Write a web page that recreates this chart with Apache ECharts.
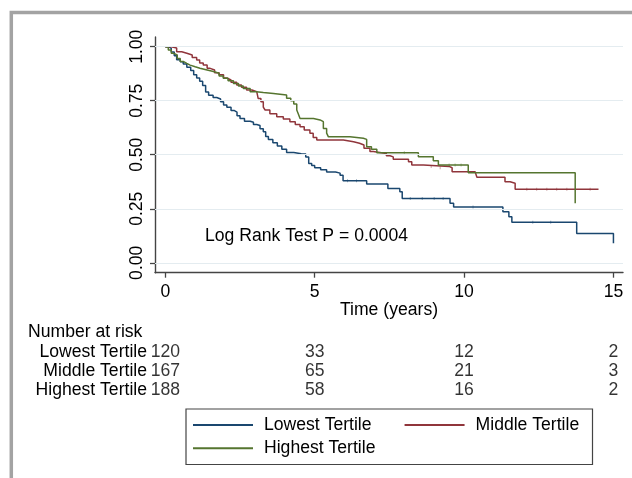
<!DOCTYPE html>
<html>
<head>
<meta charset="utf-8">
<script src="https://cdn.jsdelivr.net/npm/echarts@6/dist/echarts.min.js"></script>
<style>
  html, body { margin: 0; padding: 0; background: #fff; }
  #chart { width: 632px; height: 478px; }
</style>
</head>
<body>
<div id="chart"></div>
<script>
// Kaplan-Meier estimates: [time in years, survival]
var lowest = [
    [0, 1], [0.1, 0.992], [0.2, 0.975], [0.3, 0.958], [0.38, 0.94], [0.5, 0.93], [0.6, 0.92],
    [0.72, 0.905], [0.85, 0.89], [0.95, 0.87], [1.05, 0.855], [1.15, 0.84], [1.25, 0.82],
    [1.35, 0.79], [1.45, 0.775], [1.6, 0.765], [1.72, 0.758], [1.85, 0.745], [1.95, 0.73],
    [2.06, 0.72], [2.2, 0.705], [2.3, 0.697], [2.4, 0.68], [2.5, 0.668], [2.65, 0.655],
    [2.84, 0.65], [2.95, 0.64], [3.06, 0.635], [3.17, 0.62], [3.28, 0.606], [3.36, 0.585],
    [3.45, 0.57], [3.6, 0.555], [3.75, 0.54], [3.9, 0.525], [4.06, 0.51], [4.3, 0.505],
    [4.55, 0.503], [4.7, 0.49], [4.8, 0.46], [4.9, 0.45], [5.0, 0.44], [5.2, 0.43],
    [5.4, 0.42], [5.7, 0.415], [5.85, 0.405], [5.95, 0.38], [6.74, 0.364], [7.45, 0.344],
    [7.85, 0.329], [7.93, 0.298], [9.53, 0.276], [9.65, 0.258], [11.3, 0.236], [11.5, 0.213],
    [11.6, 0.187], [13.77, 0.136], [15, 0.09]
];
var middle = [
    [0, 1], [0.2, 0.994], [0.38, 0.977], [0.55, 0.97], [0.72, 0.962], [0.9, 0.95], [1.05, 0.938],
    [1.15, 0.925], [1.27, 0.915], [1.4, 0.9], [1.5, 0.892], [1.65, 0.88], [1.8, 0.87],
    [1.95, 0.855], [2.06, 0.846], [2.2, 0.835], [2.39, 0.823], [2.55, 0.812], [2.72, 0.8],
    [2.9, 0.792], [3.06, 0.784], [3.11, 0.76], [3.2, 0.745], [3.28, 0.72], [3.34, 0.707],
    [3.5, 0.69], [3.73, 0.676], [3.95, 0.665], [4.17, 0.653], [4.35, 0.64], [4.51, 0.63],
    [4.65, 0.615], [4.84, 0.6], [4.95, 0.58], [5.07, 0.568], [5.96, 0.56], [6.3, 0.553],
    [6.5, 0.545], [6.65, 0.53], [6.85, 0.515], [6.96, 0.506], [7.4, 0.495], [7.52, 0.49],
    [7.63, 0.479], [8.14, 0.468], [8.25, 0.452], [8.64, 0.446], [9.5, 0.44], [9.6, 0.421],
    [10.37, 0.414], [10.43, 0.396], [11.37, 0.375], [11.54, 0.368], [11.71, 0.34], [14.5, 0.34]
];
var highest = [
    [0, 1], [0.1, 0.985], [0.2, 0.97], [0.27, 0.962], [0.4, 0.945], [0.5, 0.932], [0.6, 0.923],
    [0.72, 0.915], [0.83, 0.907], [1.0, 0.9], [1.16, 0.892], [1.4, 0.885], [1.61, 0.877],
    [1.8, 0.865], [1.94, 0.854], [2.1, 0.842], [2.28, 0.83], [2.45, 0.818], [2.61, 0.807],
    [2.84, 0.792], [3.05, 0.788], [3.28, 0.784], [3.62, 0.776], [4.06, 0.761], [4.2, 0.75],
    [4.3, 0.735], [4.4, 0.707], [4.45, 0.69], [4.51, 0.668], [4.96, 0.661], [5.18, 0.653],
    [5.29, 0.622], [5.4, 0.6], [5.46, 0.583], [6.18, 0.576], [6.63, 0.571], [6.74, 0.537],
    [6.9, 0.525], [7.08, 0.509], [8.47, 0.491], [8.97, 0.472], [9.14, 0.452], [10.14, 0.417],
    [13.72, 0.275]
];

// censoring ticks seen on the flat parts of the curves
var censLowest = [[6.1, 0.38], [6.4, 0.38], [8.2, 0.298], [8.6, 0.298], [9.0, 0.298], [9.3, 0.298], [10.3, 0.258], [12.3, 0.187], [12.9, 0.187]];
var censMiddle = [[8.9, 0.446], [9.2, 0.44], [12.1, 0.34], [12.43, 0.34], [12.77, 0.34], [13.1, 0.34], [13.44, 0.34], [14.22, 0.34]];
var censHighest = [[8.0, 0.509], [9.5, 0.452], [9.7, 0.452], [9.9, 0.452]];

var groupNames = ['Lowest Tertile', 'Middle Tertile', 'Highest Tertile'];
var xTicks = [0, 5, 10, 15];
var yTicks = [0, 0.25, 0.5, 0.75, 1];

// number at risk at each x tick
var riskLowest = [120, 33, 12, 2];
var riskMiddle = [167, 65, 21, 3];
var riskHighest = [188, 58, 16, 2];

var pText = 'Log Rank Test P = 0.0004';

var FONT = '"Liberation Sans", Arial, Helvetica, sans-serif';
var FS = 17.6;
var colors = ['#1a476f', '#90353b', '#55752f'];

var riskData = [];
[riskLowest, riskMiddle, riskHighest].forEach(function (row, i) {
    row.forEach(function (n, j) {
        riskData.push([xTicks[j], groupNames[i], n]);
    });
});

var chart = echarts.init(document.getElementById('chart'));

function kmSeries(name, data, color) {
    return {
        name: name,
        type: 'line',
        step: 'end',
        data: data,
        showSymbol: false,
        symbol: 'none',
        itemStyle: { color: color },
        lineStyle: { width: 1.5, color: color },
        z: 3
    };
}

function censorSeries(data, color) {
    return {
        type: 'scatter',
        data: data,
        symbol: 'rect',
        symbolSize: [1, 3],
        itemStyle: { color: color, opacity: 0.45 },
        z: 3
    };
}

var axisColor = '#444';

var option = {
    animation: false,
    textStyle: { fontFamily: FONT },
    grid: [
        { left: 155, right: 9, top: 37, bottom: 205.3 },
        { left: 155, right: 9, top: 342.1, height: 57.6 }
    ],
    xAxis: [{
        type: 'value',
        gridIndex: 0,
        position: 'bottom',
        min: -0.345,
        max: 15.32,
        name: 'Time (years)',
        nameLocation: 'middle',
        nameGap: 28,
        nameTextStyle: { fontSize: FS, color: '#000', fontFamily: FONT },
        axisLine: { show: true, onZero: false, lineStyle: { color: axisColor, width: 1.4 } },
        axisTick: { show: true, customValues: xTicks, length: 5, lineStyle: { color: axisColor, width: 1.3 } },
        axisLabel: {
            customValues: xTicks, margin: 10, fontSize: FS, color: '#000', fontFamily: FONT,
            formatter: function (v) { return String(v); }
        },
        splitLine: { show: false }
    }, {
        type: 'value',
        gridIndex: 1,
        min: -0.345,
        max: 15.32,
        show: false
    }],
    yAxis: [{
        type: 'value',
        gridIndex: 0,
        min: -0.046,
        max: 1.045,
        axisLine: { show: true, onZero: false, lineStyle: { color: axisColor, width: 1.4 } },
        axisTick: { show: true, customValues: yTicks, length: 5, lineStyle: { color: axisColor, width: 1.3 } },
        axisLabel: {
            customValues: yTicks, rotate: 90, margin: 9, fontSize: FS, color: '#000', fontFamily: FONT,
            formatter: function (v) { return v.toFixed(2); }
        },
        splitLine: { show: false }
    }, {
        type: 'category',
        gridIndex: 1,
        inverse: true,
        data: groupNames,
        axisLine: { show: false },
        axisTick: { show: false },
        axisLabel: { interval: 0, margin: 8, fontSize: FS, color: '#000', fontFamily: FONT }
    }],
    legend: [{
        data: ['Lowest Tertile', 'Middle Tertile'],
        left: 193,
        top: 415,
        padding: 0,
        itemWidth: 60,
        itemHeight: 2,
        itemGap: 33,
        icon: 'rect',
        textStyle: { fontSize: FS, color: '#000', fontFamily: FONT, lineHeight: 20, padding: [0, 0, 0, 6] }
    }, {
        data: ['Highest Tertile'],
        left: 193,
        top: 438.3,
        padding: 0,
        itemWidth: 60,
        itemHeight: 2,
        icon: 'rect',
        textStyle: { fontSize: FS, color: '#000', fontFamily: FONT, lineHeight: 20, padding: [0, 0, 0, 6] }
    }],
    graphic: [
        {   // outer frame of the graph region
            type: 'rect',
            shape: { x: 11.3, y: 12.5, width: 800, height: 700 },
            style: { fill: 'none', stroke: '#a3a3a3', lineWidth: 3.5 },
            silent: true
        },
        {
            type: 'rect',
            shape: { x: 186, y: 409, width: 406.5, height: 55.5 },
            style: { fill: 'none', stroke: '#444', lineWidth: 1.2 },
            silent: true
        },
        {
            type: 'text',
            x: 205,
            y: 236,
            style: { text: pText, fontSize: FS, fill: '#000', fontFamily: FONT, verticalAlign: 'middle' }
        },
        {
            type: 'text',
            x: 28,
            y: 332,
            style: { text: 'Number at risk', fontSize: FS, fill: '#000', fontFamily: FONT, verticalAlign: 'middle' }
        }
    ],
    series: [
        {   // horizontal grid lines
            name: 'gridlines',
            type: 'line',
            data: [],
            z: 1,
            itemStyle: { color: '#e4ecf0' },
            markLine: {
                silent: true,
                symbol: ['none', 'none'],
                label: { show: false },
                lineStyle: { color: '#e4ecf0', width: 1.2, type: 'solid' },
                data: yTicks.map(function (v) { return { yAxis: v }; })
            }
        },
        kmSeries(groupNames[0], lowest, colors[0]),
        kmSeries(groupNames[1], middle, colors[1]),
        kmSeries(groupNames[2], highest, colors[2]),
        censorSeries(censLowest, colors[0]),
        censorSeries(censMiddle, colors[1]),
        censorSeries(censHighest, colors[2]),
        {
            name: 'risk',
            type: 'scatter',
            xAxisIndex: 1,
            yAxisIndex: 1,
            data: riskData,
            symbolSize: 1,
            itemStyle: { color: 'rgba(0,0,0,0)' },
            label: {
                show: true,
                position: 'inside',
                fontSize: FS,
                color: '#000',
                fontFamily: FONT,
                formatter: function (p) { return String(p.value[2]); }
            }
        }
    ]
};

chart.setOption(option);
</script>
</body>
</html>
